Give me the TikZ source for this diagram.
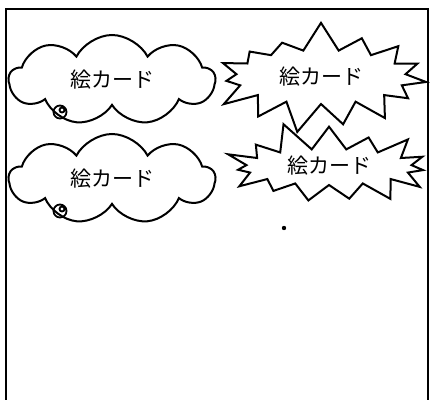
\documentclass[tikz,border=0pt]{standalone}
\usepackage{fontspec}
\newfontfamily\jpfont{Noto Sans CJK JP}
\usetikzlibrary{shapes.symbols}

\begin{document}
\begin{tikzpicture}[x=1pt,y=-1pt,
   card/.style={font=\jpfont\fontsize{21}{21}\selectfont},
   thought/.style={card,cloud,cloud puffs=9,cloud puff arc=125,aspect=2.3,
      draw,line width=2pt,minimum width=206pt,minimum height=90pt,inner sep=0pt},
   burst/.style={card,starburst,starburst points=15,starburst point height=30pt,
      draw,line width=2pt,minimum width=230pt,minimum height=114pt,inner sep=0pt}]
\useasboundingbox (0,0) rectangle (431,399);
% frame
\draw[line width=2.2pt] (6,420) -- (6,9) -- (428,9) -- (428,420);
% clouds with their tails
\node[thought] (cloudA) at (112,80) {絵カード\hspace{22pt}};
\node[thought] (cloudB) at (112,179) {絵カード\hspace{22pt}};
\draw[line width=1.8pt] (60,112) circle (6.5) (62,110) circle (2.5);
\draw[line width=1.8pt] (60,211) circle (6.5) (62,209) circle (2.5);
% bursts
\node[burst,random starburst=7] (burstA) at (321,77) {絵カード\hspace{32pt}};
\node[burst,random starburst=11,minimum width=226pt,minimum height=96pt]
   (burstB) at (329,167) {\raisebox{5pt}{絵カード}\hspace{24pt}};
\fill (284,228) circle (2.2);
\end{tikzpicture}
\end{document}
